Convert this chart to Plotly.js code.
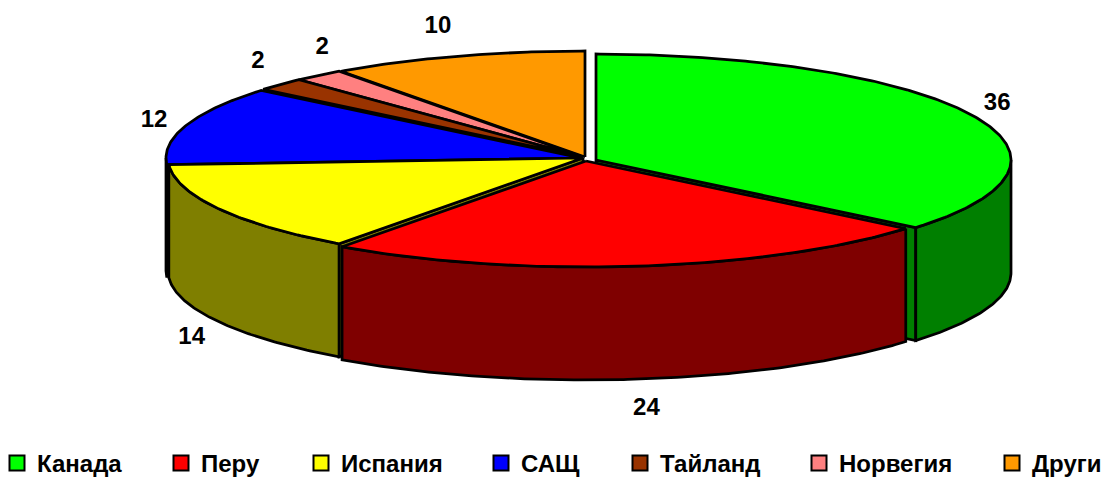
<!DOCTYPE html>
<html><head><meta charset="utf-8">
<script src="https://cdn.plot.ly/plotly-3.0.1.min.js"></script>
<style>html,body{margin:0;padding:0;background:#fff}#c{width:1102px;height:477px}</style>
</head><body><div id="c"></div>
<script>
// data
const categories = ['Канада','Перу','Испания','САЩ','Тайланд','Норвегия','Други'];
const values = [36,24,14,12,2,2,10];
// style
const topColors = ['#00FF00','#FF0000','#FFFF00','#0000FF','#993300','#FF8080','#FF9900'];
const wallColors = ['#007F00','#7F0000','#7F7F00','#00007F','#4C1900','#7F4040','#7F4C00'];
// layout geometry (pixels)
const apexX = [596,586,583,581,583,583,585];
const apexY = [160,161,158,158,157,157,157];
const RX = 415, RY = 106, DEPTH = 113;
const legendX = [0,164,304,484,623,802,995];
const labelNudgeX = [-6,4,3,1,3,26,-8];
const labelNudgeY = [-1,6,4,3,-6,-9,-6];
const paintOrder = [6,5,4,3,0,2,1];

const total = values.reduce((a,b)=>a+b,0);
let cum = 0;
const slices = values.map((v,i)=>{
  const a0 = cum/total*2*Math.PI; cum += v;
  return {i, a0, a1: cum/total*2*Math.PI};
});
const pt = (i,a,dz=0,rx=RX,ry=RY)=>[apexX[i]+rx*Math.sin(a), apexY[i]-ry*Math.cos(a)+dz];
function arc(i,a0,a1,dz=0){
  const n = Math.max(2,Math.ceil((a1-a0)/0.01)), out=[];
  for(let k=0;k<=n;k++) out.push(pt(i,a0+(a1-a0)*k/n,dz));
  return out;
}
function poly(points,color,lw=2.75){
  const p = points.concat([points[0]]);
  return {type:'scatter',mode:'lines',x:p.map(q=>q[0]),y:p.map(q=>q[1]),fill:'toself',fillcolor:color,
    line:{color:'#000',width:lw,shape:'linear'},hoverinfo:'skip',showlegend:false};
}
const traces = [];
paintOrder.forEach(idx=>{
  const s = slices[idx], i = s.i, col = wallColors[i];
  const apex = [apexX[i],apexY[i]];
  // cut faces that look towards the viewer
  if(i===0 || i===2){
    const c = pt(i,i===0?s.a1:s.a0);
    traces.push(poly([apex,c,[c[0],c[1]+DEPTH],[apex[0],apex[1]+DEPTH]],col));
  }
  // outer wall: front half of the rim only
  const f0 = Math.max(s.a0,Math.PI/2), f1 = Math.min(s.a1,3*Math.PI/2);
  if(f1 > f0){
    const topArc = arc(i,f0,f1), botArc = arc(i,f0,f1,DEPTH).reverse();
    traces.push(poly(topArc.concat(botArc),col));
  }
  // top face
  traces.push(poly([apex].concat(arc(i,s.a0,s.a1)),topColors[i]));
});
// value labels
const lx=[],ly=[];
slices.forEach(s=>{
  const mid=(s.a0+s.a1)/2;
  const p = pt(s.i,mid,0,RX+35,RY+24);
  lx.push(p[0]+labelNudgeX[s.i]);
  ly.push(p[1]+(Math.cos(mid)<0?DEPTH:0)+labelNudgeY[s.i]);
});
traces.push({type:'scatter',mode:'text',x:lx,y:ly,text:values.map(String),textposition:'middle center',
  textfont:{family:'Liberation Sans, Arial, sans-serif',size:24,color:'#000',weight:700},hoverinfo:'skip',showlegend:false});
// legend entries
const layout = {
  width:1102,height:477,margin:{l:0,r:0,t:0,b:0,autoexpand:false},paper_bgcolor:'#fff',plot_bgcolor:'#fff',
  xaxis:{range:[0,1102],visible:false,fixedrange:true},
  yaxis:{range:[477,0],visible:false,fixedrange:true},
  showlegend:true
};
categories.forEach((c,i)=>{
  const key = i===0?'legend':'legend'+(i+1);
  traces.push({type:'scatter',mode:'markers',x:[-100],y:[-100],name:c,legend:key,showlegend:true,
    marker:{symbol:'square',size:15,color:topColors[i],line:{color:'#000',width:2}},hoverinfo:'skip'});
  layout[key] = {x:legendX[i]/1102,xanchor:'left',y:1-441/477,yanchor:'top',bgcolor:'rgba(0,0,0,0)',borderwidth:0,indentation:-3,
    font:{family:'Liberation Sans, Arial, sans-serif',size:24,color:'#000',weight:700},itemclick:false,itemdoubleclick:false};
});
Plotly.newPlot('c',traces,layout,{displayModeBar:false,staticPlot:true});
</script></body></html>
